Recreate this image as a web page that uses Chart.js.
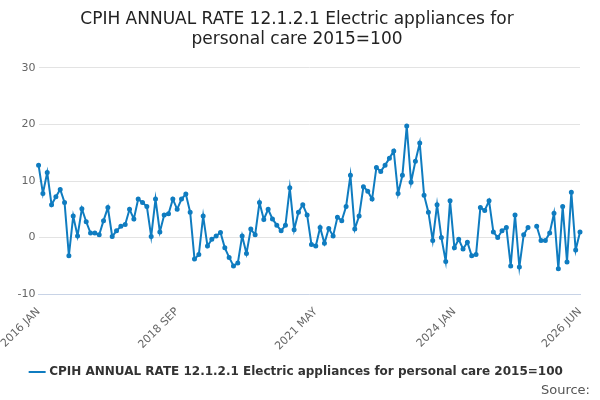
<!DOCTYPE html>
<html>
<head>
<meta charset="utf-8">
<script src="https://cdn.jsdelivr.net/npm/chart.js@4"></script>
<style>
body { margin: 0; background: #fff; }
#wrap { position: relative; width: 600px; height: 400px; }
#source { position: absolute; right: 10px; bottom: 3px; font: 13px "DejaVu Sans", sans-serif; color: #555; }
</style>
</head>
<body>
<div id="wrap">
<canvas id="chart" width="600" height="400"></canvas>
<div id="source">Source:</div>
</div>
<script>
// Libellés des mois affichés sur l'axe X
const tickLabels = ['2016 JAN', '2018 SEP', '2021 MAY', '2024 JAN', '2026 JUN'];
const months = ['JAN','FEB','MAR','APR','MAY','JUN','JUL','AUG','SEP','OCT','NOV','DEC'];

// Catégories : une par mois, 2016 JAN à 2026 JUN
const categories = [];
for (let y = 2016; y <= 2026; y++) {
    for (let m = 0; m < 12; m++) {
        if (y === 2026 && m > 5) break;
        categories.push(y + ' ' + months[m]);
    }
}

// Valeurs
const rateValues = [
    12.8, 7.8, 11.5, 5.8, 7.2, 8.5, 6.2, -3.2, 3.8, 0.3, 5.1, 2.8,
    0.8, 0.8, 0.5, 3, 5.3, 0.2, 1.2, 2, 2.3, 5, 3.3, 6.8,
    6.2, 5.5, 0.2, 6.8, 1, 4, 4.2, 6.8, 5, 6.8, 7.7, 4.5,
    -3.8, -3, 3.8, -1.5, -0.3, 0.3, 0.9, -1.8, -3.5, -5, -4.5, 0.3,
    -2.8, 1.5, 0.5, 6.2, 3.2, 5, 3.3, 2.2, 1.2, 2.2, 8.8, 1.4,
    4.5, 5.8, 4, -1.2, -1.5, 1.8, -1, 1.6, 0.3, 3.6, 3, 5.5,
    11, 1.5, 3.8, 9, 8.2, 6.8, 12.4, 11.7, 12.8, 14, 15.3, 7.8,
    11, 19.7, 9.8, 13.5, 16.7, 7.5, 4.5, -0.5, 5.8, 0, -4.2, 6.5,
    -1.8, -0.3, -2, -0.8, -3.2, -3, 5.3, 4.8, 6.5, 1, 0, 1.2,
    1.8, -5, 4, -5.2, 0.5, 1.8, null, 2, -0.5, -0.5, 0.8, 4.3,
    -5.5, 5.5, -4.3, 8, -2.2, 1
];

const seriesName = 'CPIH ANNUAL RATE 12.1.2.1 Electric appliances for personal care 2015=100';
const lineColor = '#0f7cc0';

const ctx = document.getElementById('chart').getContext('2d');
new Chart(ctx, {
    type: 'line',
    data: {
        labels: categories,
        datasets: [{
            label: seriesName,
            data: rateValues,
            borderColor: lineColor,
            backgroundColor: lineColor,
            borderWidth: 2,
            pointRadius: 1.5,
            pointHoverRadius: 3,
            tension: 0,
            spanGaps: false
        }]
    },
    options: {
        responsive: false,
        animation: false,
        layout: { padding: { left: 14, right: 20, bottom: 12 } },
        plugins: {
            title: {
                display: true,
                text: ['CPIH ANNUAL RATE 12.1.2.1 Electric appliances for', 'personal care 2015=100'],
                color: '#222',
                font: { family: 'DejaVu Sans', size: 17, weight: 'normal' },
                padding: { top: 9, bottom: 18 }
            },
            legend: {
                position: 'bottom',
                labels: {
                    usePointStyle: true,
                    pointStyle: 'line',
                    color: '#333',
                    font: { family: 'DejaVu Sans', size: 12, weight: 'bold' }
                }
            }
        },
        scales: {
            y: {
                min: -10,
                max: 30,
                ticks: { stepSize: 10, color: '#666', font: { family: 'DejaVu Sans', size: 11 } },
                grid: { color: '#e3e3e3', drawTicks: false },
                border: { display: false }
            },
            x: {
                grid: { display: false },
                border: { color: '#c8d3e6' },
                ticks: {
                    autoSkip: false,
                    maxRotation: 45,
                    minRotation: 45,
                    color: '#666',
                    font: { family: 'DejaVu Sans', size: 11 },
                    callback: function(value) {
                        const lab = this.getLabelForValue(value);
                        return tickLabels.includes(lab) ? lab : null;
                    }
                }
            }
        }
    }
});
</script>
</body>
</html>
